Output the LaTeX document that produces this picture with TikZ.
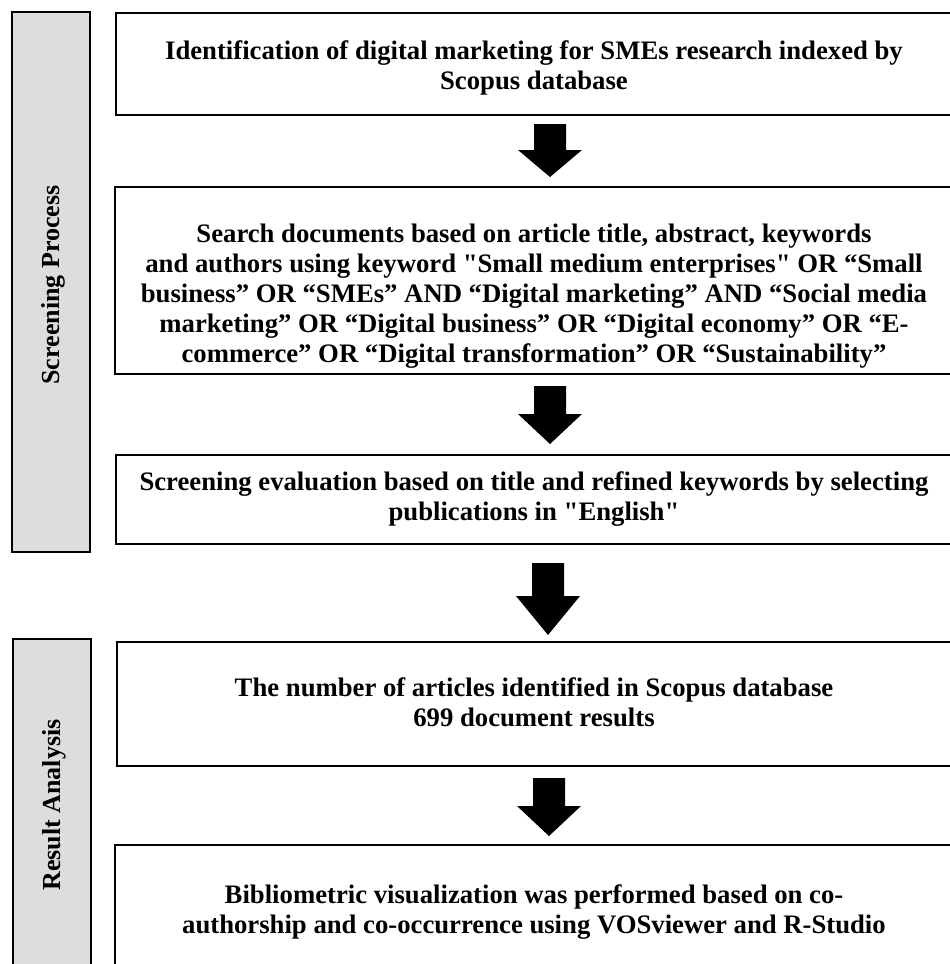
\documentclass[tikz,border=0pt]{standalone}
\usepackage{fontspec}
\setmainfont{Liberation Serif}[Ligatures=TeXOff]
\definecolor{sidegray}{HTML}{DDDDDD}
\newcommand\blockarrow[5]{% name, x, ytop, yhead, ytip
  \fill[black] ({#2-16},#3) -- ({#2+16},#3) -- ({#2+16},#4) -- ({#2+32},#4)
    -- (#2,#5) coordinate (#1) -- ({#2-32},#4) -- ({#2-16},#4) -- cycle;}
\newcommand\firstline{\rule{0pt}{20pt}}
\begin{document}
\begin{tikzpicture}[x=1pt,y=-1pt]
\tikzset{
  stage/.style={draw=black, line width=2.2pt, fill=sidegray, inner sep=0, outer sep=0, anchor=north west},
  box/.style={draw=black, line width=2.2pt, inner sep=0, outer sep=0, anchor=north west},
  txt/.style={font=\bfseries\fontsize{26.7}{30}\selectfont, align=center, inner sep=0, anchor=north},
  lbl/.style={font=\bfseries\fontsize{26}{28}\selectfont, rotate=90, inner sep=0},
}
\clip (0,0) rectangle (950,964);
\fill[white] (0,0) rectangle (950,964);
% side bars
\node[stage, minimum width=78pt, minimum height=540pt] (sp) at (12,12) {};
\node[stage, minimum width=78pt, minimum height=400pt] (ra) at (13,639) {};
\node[lbl] (spl) at (53,285) {Screening Process};
\node[lbl] (ral) at (54,805) {Result Analysis};
% boxes
\node[box, minimum width=837pt, minimum height=102pt] (b1) at (116,13) {};
\node[box, minimum width=838pt, minimum height=187pt] (b2) at (115,187) {};
\node[box, minimum width=837pt, minimum height=89pt] (b3) at (116,455) {};
\node[box, minimum width=836pt, minimum height=124pt] (b4) at (117,642) {};
\node[box, minimum width=838pt, minimum height=200pt] (b5) at (115,845) {};
% texts (north = first baseline - 20)
\node[txt] (t1) at (534,39) {\firstline Identification of digital marketing for SMEs research indexed by\\Scopus database};
\node[txt] (t2) at (534,222) {\firstline Search documents based on article title, abstract, keywords\\
and authors using keyword "Small medium enterprises" OR “Small\\
business” OR “SMEs” AND “Digital marketing” AND “Social media\\
marketing” OR “Digital business” OR “Digital economy” OR “E-\\
commerce” OR “Digital transformation” OR “Sustainability”};
\node[txt] (t3) at (534,470) {\firstline Screening evaluation based on title and refined keywords by selecting\\publications in "English"};
\node[txt] (t4) at (534,676) {\firstline The number of articles identified in Scopus database\\699 document results};
\node[txt] (t5) at (534,883) {\firstline Bibliometric visualization was performed based on co-\\authorship and co-occurrence using VOSviewer and R-Studio};
% block arrows
\blockarrow{a1}{550}{124}{150}{177}
\blockarrow{a2}{550}{386}{414}{444}
\blockarrow{a3}{548}{563}{596}{635}
\blockarrow{a4}{549}{778}{806}{836}
\end{tikzpicture}
\end{document}
